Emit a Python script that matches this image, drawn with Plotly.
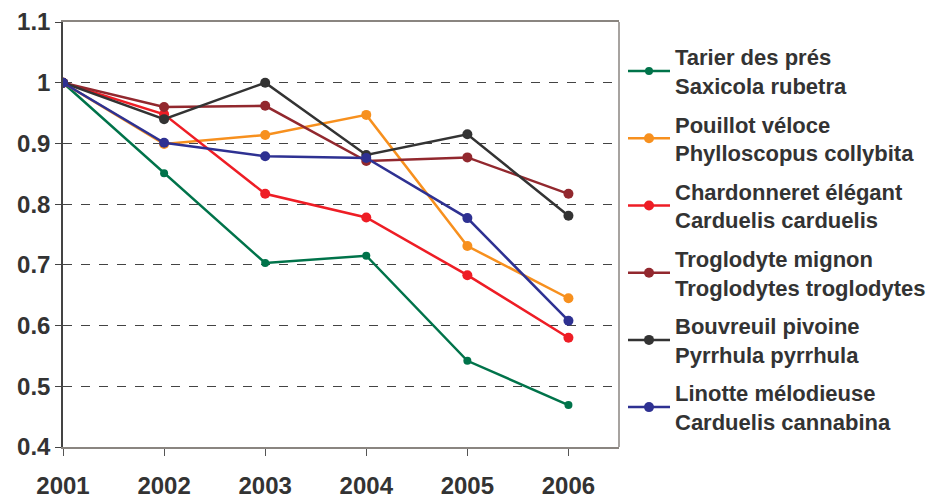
import plotly.graph_objects as go

years = [2001, 2002, 2003, 2004, 2005, 2006]
names = [
    "Tarier des prés<br>Saxicola rubetra",
    "Pouillot véloce<br>Phylloscopus collybita",
    "Chardonneret élégant<br>Carduelis carduelis",
    "Troglodyte mignon<br>Troglodytes troglodytes",
    "Bouvreuil pivoine<br>Pyrrhula pyrrhula",
    "Linotte mélodieuse<br>Carduelis cannabina",
]
tarier = [1.0, 0.851, 0.703, 0.715, 0.542, 0.469]
pouillot = [1.0, 0.899, 0.914, 0.947, 0.731, 0.645]
chardonneret = [1.0, 0.948, 0.817, 0.778, 0.683, 0.580]
troglodyte = [1.0, 0.960, 0.962, 0.871, 0.877, 0.817]
bouvreuil = [1.0, 0.940, 1.0, 0.881, 0.915, 0.781]
linotte = [1.0, 0.901, 0.879, 0.876, 0.777, 0.608]
colors = ["#00734A", "#F7901E", "#EE1D25", "#92282E", "#333333", "#2E3192"]
y_ticks = [0.4, 0.5, 0.6, 0.7, 0.8, 0.9, 1.0, 1.1]
y_labels = ["0.4", "0.5", "0.6", "0.7", "0.8", "0.9", "1", "1.1"]

series = [tarier, pouillot, chardonneret, troglodyte, bouvreuil, linotte]
marker_sizes = [8, 10, 10, 10, 10, 10]

fig = go.Figure()
for i, (nm, vals) in enumerate(zip(names, series)):
    fig.add_trace(go.Scatter(
        x=years, y=vals, name=nm, mode="lines+markers",
        line=dict(color=colors[i], width=2.5),
        marker=dict(color=colors[i], size=marker_sizes[i]),
        legendgroup=str(i),
    ))

font_fam = "Liberation Sans, Arial, sans-serif"
fig.update_layout(
    width=936, height=495,
    margin=dict(l=55, r=325, t=14, b=56),
    plot_bgcolor="white", paper_bgcolor="white",
    font=dict(family=font_fam, color="#333333", size=22, weight="bold"),
    showlegend=True,
    legend=dict(
        xref="container", yref="container",
        x=615 / 936, y=1 - 28 / 495, xanchor="left", yanchor="top",
        font=dict(family=font_fam, size=22, color="#333333", weight="bold"),
        tracegroupgap=7, itemwidth=42, bgcolor="rgba(0,0,0,0)",
        maxheight=495,
    ),
)
fig.update_xaxes(
    range=[2001, 2006.5], tickvals=years, ticktext=[str(y) for y in years],
    showgrid=False, showline=True, linecolor="#8a8580", linewidth=1.5,
    mirror=True, ticks="outside", ticklen=7, tickcolor="#555555",
    ticklabelstandoff=9, automargin=False,
    tickfont=dict(size=24, color="#333333", weight="bold"), zeroline=False,
)
fig.update_yaxes(
    range=[0.4, 1.1], tickvals=y_ticks, ticktext=y_labels,
    showgrid=True, gridcolor="#444444", griddash="dash", gridwidth=1,
    showline=True, linecolor="#444444", linewidth=1.5, automargin=False,
    ticks="outside", ticklen=6, tickcolor="#444444",
    tickfont=dict(size=24, color="#333333", weight="bold"), zeroline=False,
)
fig.add_shape(type="line", xref="paper", yref="paper", x0=1, x1=1, y0=0, y1=1,
              line=dict(color="#8a8580", width=1.5))
fig.write_html("out.html")
